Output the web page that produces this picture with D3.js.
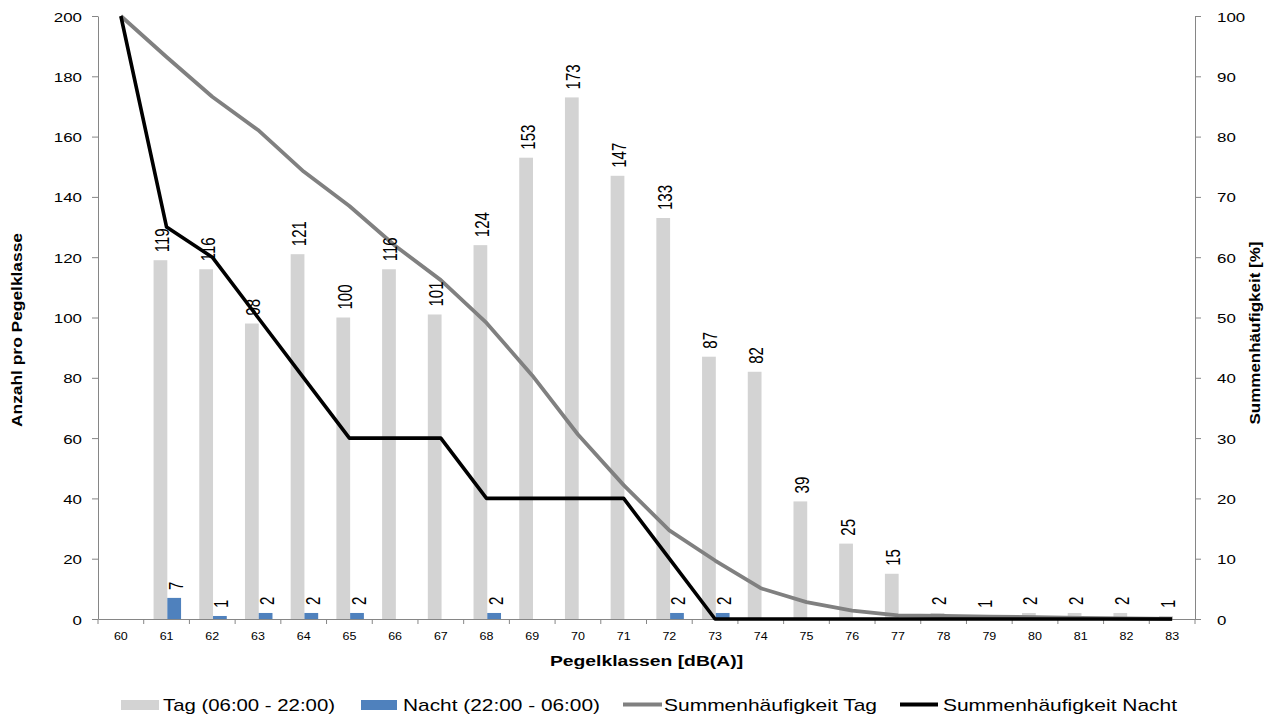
<!DOCTYPE html>
<html>
<head>
<meta charset="utf-8">
<script src="https://cdn.jsdelivr.net/npm/d3@7"></script>
<style>
  body { margin: 0; background: #fff; }
  svg { display: block; }
  text { font-family: "Liberation Sans", Arial, sans-serif; fill: #000; }
</style>
</head>
<body>
<svg id="chart" width="1283" height="717"></svg>
<script>
// classes 60..83 dB(A)
const categories = [60, 61, 62, 63, 64, 65, 66, 67, 68, 69, 70, 71, 72, 73, 74, 75, 76, 77, 78, 79, 80, 81, 82, 83];
const tagCounts = [0, 119, 116, 98, 121, 100, 116, 101, 124, 153, 173, 147, 133, 87, 82, 39, 25, 15, 2, 1, 2, 2, 2, 1];
const nachtCounts = [0, 7, 1, 2, 2, 2, 0, 0, 2, 0, 0, 0, 2, 2, 0, 0, 0, 0, 0, 0, 0, 0, 0, 0];
// Summenhäufigkeit in %
const tagCumulative = [100, 93.2, 86.6, 81.1, 74.2, 68.5, 61.9, 56.2, 49.1, 40.4, 30.6, 22.2, 14.7, 9.7, 5.1, 2.8, 1.4, 0.6, 0.5, 0.4, 0.3, 0.2, 0.1, 0];
const nachtCumulative = [100, 65, 60, 50, 40, 30, 30, 30, 20, 20, 20, 20, 10, 0, 0, 0, 0, 0, 0, 0, 0, 0, 0, 0];
const leftTicks = [0, 20, 40, 60, 80, 100, 120, 140, 160, 180, 200];
const rightTicks = [0, 10, 20, 30, 40, 50, 60, 70, 80, 90, 100];
const seriesNames = ["Tag (06:00 - 22:00)", "Nacht (22:00 - 06:00)", "Summenhäufigkeit Tag", "Summenhäufigkeit Nacht"];

const COLORS = { tag: "#d3d3d3", nacht: "#4f81bd", cumTag: "#808080", cumNacht: "#000000", axis: "#868686" };
const plot = { left: 98, right: 1195, top: 16, bottom: 619 };

const svg = d3.select("#chart");

const x = d3.scaleBand().domain(categories).range([plot.left, plot.right]).padding(0);
const sub = d3.scaleBand().domain(["tag", "nacht"]).range([-13, 14.5]).padding(0);
const yLeft = d3.scaleLinear().domain([0, 200]).range([plot.bottom, plot.top]);
const yRight = d3.scaleLinear().domain([0, 100]).range([plot.bottom, plot.top]);
const cx = c => x(c) + x.bandwidth() / 2;

const rows = categories.map((c, i) => ({
    cat: c, tag: tagCounts[i], nacht: nachtCounts[i], cumTag: tagCumulative[i], cumNacht: nachtCumulative[i]
}));

// bars
const gBars = svg.append("g").attr("class", "bars");
["tag", "nacht"].forEach(key => {
    gBars.selectAll("rect." + key)
        .data(rows.filter(d => d[key] > 0))
        .enter().append("rect")
        .attr("class", key)
        .attr("x", d => cx(d.cat) + sub(key))
        .attr("width", sub.bandwidth())
        .attr("y", d => yLeft(d[key]))
        .attr("height", d => yLeft(0) - yLeft(d[key]))
        .attr("fill", COLORS[key]);
});

// axes
const styleAxis = g => {
    g.select(".domain").attr("stroke", COLORS.axis);
    g.selectAll(".tick line").attr("stroke", COLORS.axis);
};

svg.append("g")
    .attr("transform", `translate(${plot.left},0)`)
    .call(d3.axisLeft(yLeft).tickValues(leftTicks).tickSize(6).tickSizeOuter(0))
    .call(styleAxis)
    .call(g => g.selectAll(".tick text")
        .attr("x", 0).attr("dy", null)
        .attr("font-size", 13).attr("font-family", "Liberation Sans").attr("fill", "#000")
        .attr("text-anchor", "end")
        .attr("transform", "translate(-16,5) scale(1.3,1)"));

svg.append("g")
    .attr("transform", `translate(${plot.right},0)`)
    .call(d3.axisRight(yRight).tickValues(rightTicks).tickSize(6).tickSizeOuter(0))
    .call(styleAxis)
    .call(g => g.selectAll(".tick text")
        .attr("x", 0).attr("dy", null)
        .attr("font-size", 13).attr("font-family", "Liberation Sans").attr("fill", "#000")
        .attr("text-anchor", "start")
        .attr("transform", "translate(22,5) scale(1.3,1)"));

// x axis: labels at centers, ticks on class boundaries
const gx = svg.append("g").attr("transform", `translate(0,${plot.bottom})`);
gx.call(d3.axisBottom(x).tickSize(0).tickSizeOuter(0))
    .call(g => g.select(".domain").attr("stroke", COLORS.axis))
    .call(g => g.selectAll(".tick text")
        .attr("y", 0).attr("dy", null)
        .attr("font-size", 10).attr("font-family", "Liberation Sans").attr("fill", "#000")
        .attr("transform", "translate(0,21) scale(1.25,1)"));
gx.selectAll("line.bound")
    .data(categories.map(c => x(c)).concat([plot.right]))
    .enter().append("line")
    .attr("class", "bound")
    .attr("x1", d => d).attr("x2", d => d)
    .attr("y1", 0).attr("y2", 5)
    .attr("stroke", COLORS.axis);

// cumulative lines
const lineTag = d3.line().x(d => cx(d.cat)).y(d => yRight(d.cumTag));
const lineNacht = d3.line().x(d => cx(d.cat)).y(d => yRight(d.cumNacht));
svg.append("path").datum(rows).attr("d", lineTag)
    .attr("fill", "none").attr("stroke", COLORS.cumTag).attr("stroke-width", 3.8).attr("stroke-linejoin", "round");
svg.append("path").datum(rows).attr("d", lineNacht)
    .attr("fill", "none").attr("stroke", COLORS.cumNacht).attr("stroke-width", 3.6).attr("stroke-linejoin", "round");

// data labels (rotated)
const gLabels = svg.append("g").attr("class", "labels");
["tag", "nacht"].forEach(key => {
    gLabels.selectAll("text." + key)
        .data(rows.filter(d => d[key] > 0))
        .enter().append("text")
        .attr("class", key)
        .attr("font-size", 15)
        .attr("transform", d => {
            const bx = cx(d.cat) + sub(key) + sub.bandwidth() / 2 + 8.5;
            return `translate(${bx},${yLeft(d[key]) - 8}) scale(1.4,1) rotate(-90)`;
        })
        .text(d => d[key]);
});

// axis titles
svg.append("text")
    .attr("transform", "translate(22,330) rotate(-90)")
    .attr("text-anchor", "middle")
    .attr("font-weight", "bold").attr("font-size", 15)
    .attr("textLength", 194).attr("lengthAdjust", "spacingAndGlyphs")
    .text("Anzahl pro Pegelklasse");

svg.append("text")
    .attr("transform", "translate(1260,333) rotate(-90)")
    .attr("text-anchor", "middle")
    .attr("font-weight", "bold").attr("font-size", 15)
    .attr("textLength", 183).attr("lengthAdjust", "spacingAndGlyphs")
    .text("Summenhäufigkeit [%]");

svg.append("text")
    .attr("transform", `translate(${(plot.left + plot.right) / 2},666) scale(1.38,1)`)
    .attr("text-anchor", "middle")
    .attr("font-weight", "bold").attr("font-size", 14)
    .text("Pegelklassen [dB(A)]");

// legend
const legendItems = [
    { name: seriesNames[0], type: "rect", color: COLORS.tag, x0: 121, x1: 159, tx: 163, tw: 172 },
    { name: seriesNames[1], type: "rect", color: COLORS.nacht, x0: 361, x1: 397, tx: 403, tw: 197 },
    { name: seriesNames[2], type: "line", color: COLORS.cumTag, x0: 623, x1: 662, tx: 664, tw: 213 },
    { name: seriesNames[3], type: "line", color: COLORS.cumNacht, x0: 900, x1: 938, tx: 943, tw: 234 }
];
const gLegend = svg.append("g").attr("class", "legend");
legendItems.forEach(item => {
    if (item.type === "rect") {
        gLegend.append("rect")
            .attr("x", item.x0).attr("y", 700)
            .attr("width", item.x1 - item.x0).attr("height", 10)
            .attr("fill", item.color);
    } else {
        gLegend.append("line")
            .attr("x1", item.x0).attr("x2", item.x1)
            .attr("y1", 704.5).attr("y2", 704.5)
            .attr("stroke", item.color).attr("stroke-width", 3.8);
    }
    gLegend.append("text")
        .attr("x", item.tx).attr("y", 711)
        .attr("font-size", 17)
        .attr("textLength", item.tw).attr("lengthAdjust", "spacingAndGlyphs")
        .text(item.name);
});
</script>
</body>
</html>
